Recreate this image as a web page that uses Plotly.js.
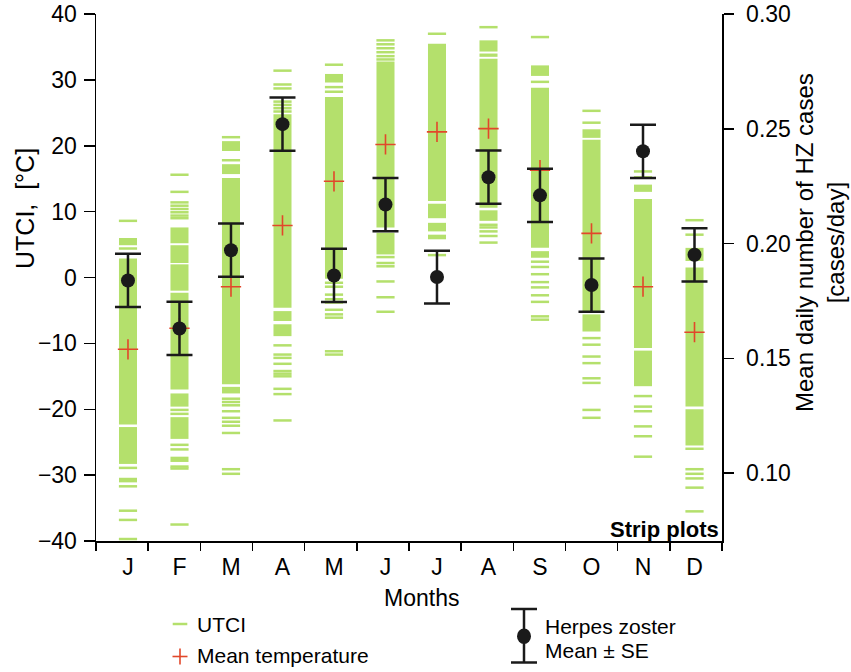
<!DOCTYPE html>
<html>
<head>
<meta charset="utf-8">
<script src="https://cdn.plot.ly/plotly-3.0.1.min.js"></script>
<style>html,body{margin:0;padding:0;background:#fff;}#chart{width:851px;height:672px;}</style>
</head>
<body>
<div id="chart"></div>
<script>
// ---------- data ----------
const months = ["J","F","M","A","M","J","J","A","S","O","N","D"];
const monthNumber = [1,2,3,4,5,6,7,8,9,10,11,12];

// UTCI strip plot: dense ranges of daily values [low, high] per month (°C)
const utciBlocks = [
  [[4.9,6.0],[-22.3,2.9],[-28.3,-22.7],[-31.1,-30.4]],
  [[5.2,7.6],[2.2,4.9],[-2.0,2.0],[-17.0,-2.3],[-19.6,-17.6],[-24.5,-21.2],[-28.0,-27.2]],
  [[19.2,20.7],[15.7,17.2],[-16.2,15.1],[-17.6,-16.6]],
  [[-4.6,24.8],[-6.6,-5.1],[-8.9,-7.1]],
  [[29.6,30.9],[-0.2,27.4]],
  [[7.6,32.8],[3.5,6.8]],
  [[11.6,35.5],[9.0,11.2],[7.0,8.3],[5.8,6.5]],
  [[10.6,33.2],[33.5,34.0],[34.3,36.0],[8.6,10.2]],
  [[30.6,32.2],[4.5,28.8],[3.0,4.0]],
  [[21.2,22.5],[-5.1,20.9],[-8.2,-5.6]],
  [[13.0,14.1],[-10.7,11.9],[-16.5,-11.1]],
  [[2.5,4.5],[-19.6,1.5],[-25.5,-20.0]]
];
// UTCI strip plot: isolated daily values per month (°C)
const utciLines = [
  [8.6,4.4,-28.9,-31.7,-35.4,-36.8,-39.7],
  [15.6,13.0,11.4,10.9,10.4,9.9,9.4,9.0,-20.1,-20.7,-25.4,-26.1,-28.7,-29.0,-37.5],
  [21.3,17.8,-18.4,-18.9,-19.4,-20.3,-21.3,-21.9,-22.5,-23.6,-29.1,-29.8],
  [31.4,29.3,28.7,26.7,26.2,25.7,25.2,-10.3,-11.7,-12.2,-13.1,-14.2,-14.6,-15.0,-16.9,-17.7,-21.7],
  [32.3,28.9,28.2,-0.8,-1.4,-2.6,-3.3,-3.8,-4.9,-5.6,-6.1,-11.2,-11.7],
  [36.0,35.4,34.8,34.2,33.6,33.1,3.1,2.2,1.7,-0.6,-3.0,-5.2],
  [37.0,3.4],
  [38.0,8.0,7.6,7.0,6.3,5.3],
  [36.5,29.7,2.4,1.6,0.5,-0.7,-1.5,-2.7,-3.7,-5.9,-6.4],
  [25.3,23.5,-9.2,-10.2,-12.0,-13.0,-15.3,-16.0,-20.1,-21.3],
  [16.1,15.2,-18.0,-19.6,-20.3,-22.6,-24.1,-27.2],
  [8.7,6.5,-26.0,-29.1,-29.8,-30.5,-31.9,-35.5]
];
// Mean temperature (°C)
const meanTemp = [-10.9,-7.7,-1.4,7.9,14.6,20.2,22.1,22.6,16.3,6.7,-1.4,-8.3];
// Herpes zoster mean daily cases and SE (cases/day)
const hzMean = [0.1839,0.1630,0.1971,0.2520,0.1861,0.2170,0.1854,0.2289,0.2210,0.1819,0.2402,0.1951];
const hzSE   = [0.0116,0.0116,0.0116,0.0116,0.0116,0.0116,0.0115,0.0116,0.0116,0.0116,0.0116,0.0116];
const yTicksLeft = [-40,-30,-20,-10,0,10,20,30,40];
const yTicksRight = [0.10,0.15,0.20,0.25,0.30];

// ---------- styles ----------
const GREEN = "#b4e06c";
const RED = "#e2472a";
const BLACK = "#1a1a1a";
const FONT = "Liberation Sans, Arial, sans-serif";

// build strip traces
const bx = [], bbase = [], bh = [];
utciBlocks.forEach((list, i) => list.forEach(r => { bx.push(monthNumber[i]); bbase.push(r[0]); bh.push(r[1]-r[0]); }));
const lx = [], ly = [];
utciLines.forEach((list, i) => list.forEach(v => { lx.push(monthNumber[i]); ly.push(v); }));

const traces = [
  {type:"bar", x:bx, y:bh, base:bbase, width:0.35, marker:{color:GREEN, line:{width:0}},
   xaxis:"x", yaxis:"y", hoverinfo:"skip", showlegend:false},
  {type:"scatter", mode:"markers", x:lx, y:ly, xaxis:"x", yaxis:"y",
   marker:{symbol:"line-ew", size:13, line:{width:2.5, color:GREEN}}, hoverinfo:"skip", showlegend:false},
  {type:"scatter", mode:"markers", x:monthNumber, y:meanTemp, xaxis:"x", yaxis:"y",
   marker:{symbol:"cross-thin", size:14.5, line:{width:1.6, color:RED}}, hoverinfo:"skip", showlegend:false},
  {type:"scatter", mode:"markers", x:[], y:[], xaxis:"x2", yaxis:"y", hoverinfo:"skip", showlegend:false},
  {type:"scatter", mode:"markers", x:monthNumber, y:hzMean, xaxis:"x", yaxis:"y2",
   marker:{symbol:"circle", size:14, color:BLACK},
   error_y:{type:"data", array:hzSE, visible:true, color:BLACK, thickness:2.5, width:13},
   hoverinfo:"skip", showlegend:false}
];

const L = 96, R = 722, T = 14, B = 541;
const px = v => (v - L)/(R - L);
const py = v => (B - v)/(B - T);

const layout = {
  width:851, height:672,
  margin:{l:96, r:129, t:14, b:131, pad:0},
  paper_bgcolor:"#fff", plot_bgcolor:"rgba(0,0,0,0)",
  font:{family:FONT, color:"#000"},
  showlegend:false,
  barmode:"overlay",
  xaxis:{range:[0.379,12.534], tickvals:monthNumber, ticktext:months, ticks:"", showline:false,
         showgrid:false, zeroline:false, tickfont:{size:23, family:FONT}, ticklabelstandoff:10, anchor:"y", fixedrange:true},
  xaxis2:{overlaying:"x", range:[0,12], tick0:0, dtick:1, ticks:"outside", ticklen:8, tickwidth:1.5,
          tickcolor:"#000", showline:true, linewidth:1.5, linecolor:"#000", showticklabels:false,
          showgrid:false, zeroline:false, anchor:"y", side:"bottom"},
  yaxis:{range:[-40,40], tickvals:yTicksLeft, ticks:"outside", ticklen:11, tickwidth:1.5, tickcolor:"#000",
         showline:true, linewidth:1.5, linecolor:"#000", showgrid:false, zeroline:false,
         tickfont:{size:23, family:FONT}, ticklabelstandoff:2},
  yaxis2:{overlaying:"y", side:"right", range:[0.0704,0.30], tickvals:yTicksRight, tickformat:".2f",
          ticks:"outside", ticklen:10, tickwidth:1.5, tickcolor:"#000", showline:true, linewidth:1.5,
          linecolor:"#000", showgrid:false, zeroline:false, tickfont:{size:23, family:FONT}, ticklabelstandoff:8},
  shapes:[
    {type:"line", xref:"paper", yref:"paper", x0:px(172.7), x1:px(187.3), y0:py(624), y1:py(624), line:{color:GREEN, width:2.5}},
    {type:"line", xref:"paper", yref:"paper", x0:px(172.5), x1:px(187.5), y0:py(656.5), y1:py(656.5), line:{color:RED, width:1.6}},
    {type:"line", xref:"paper", yref:"paper", x0:px(180), x1:px(180), y0:py(648.5), y1:py(664.5), line:{color:RED, width:1.6}},
    {type:"line", xref:"paper", yref:"paper", x0:px(524), x1:px(524), y0:py(609), y1:py(662.5), line:{color:BLACK, width:2.5}},
    {type:"line", xref:"paper", yref:"paper", x0:px(511), x1:px(537), y0:py(609), y1:py(609), line:{color:BLACK, width:2.5}},
    {type:"line", xref:"paper", yref:"paper", x0:px(511), x1:px(537), y0:py(662.5), y1:py(662.5), line:{color:BLACK, width:2.5}},
    {type:"circle", xref:"paper", yref:"paper", x0:px(517), x1:px(531), y0:py(628.5), y1:py(644), fillcolor:BLACK, line:{width:0}}
  ],
  annotations:[
    {xref:"paper", yref:"paper", x:px(25), y:py(209), text:"UTCI,  [°C]", textangle:-90, showarrow:false,
     xanchor:"center", yanchor:"middle", font:{size:25, family:FONT}},
    {xref:"paper", yref:"paper", x:px(820), y:py(243), text:"Mean daily number of HZ cases<br>[cases/day]", textangle:-90,
     showarrow:false, xanchor:"center", yanchor:"middle", font:{size:24, family:FONT}},
    {xref:"paper", yref:"paper", x:px(421), y:py(598), text:"Months", showarrow:false,
     xanchor:"center", yanchor:"middle", font:{size:23, family:FONT}},
    {xref:"paper", yref:"paper", x:px(721), y:py(529), text:"<b>Strip plots</b>", showarrow:false,
     xanchor:"right", yanchor:"middle", font:{size:22, family:FONT}},
    {xref:"paper", yref:"paper", x:px(195), y:py(624), text:"UTCI", showarrow:false,
     xanchor:"left", yanchor:"middle", font:{size:21, family:FONT}},
    {xref:"paper", yref:"paper", x:px(195), y:py(655), text:"Mean temperature", showarrow:false,
     xanchor:"left", yanchor:"middle", font:{size:21, family:FONT}},
    {xref:"paper", yref:"paper", x:px(543), y:py(626), text:"Herpes zoster", showarrow:false,
     xanchor:"left", yanchor:"middle", font:{size:21, family:FONT}},
    {xref:"paper", yref:"paper", x:px(543), y:py(650), text:"Mean ± SE", showarrow:false,
     xanchor:"left", yanchor:"middle", font:{size:21, family:FONT}}
  ]
};

Plotly.newPlot("chart", traces, layout, {displayModeBar:false, staticPlot:true});
</script>
</body>
</html>
